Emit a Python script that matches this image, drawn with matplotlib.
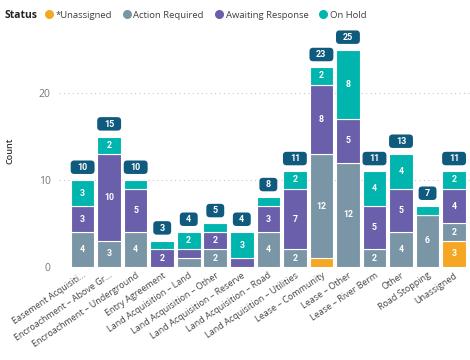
import matplotlib
matplotlib.use("Agg")
import matplotlib.pyplot as plt
import numpy as np
from matplotlib.offsetbox import DrawingArea, AnnotationBbox
from matplotlib.patches import FancyBboxPatch
from matplotlib.text import Text
from matplotlib.lines import Line2D

categories = [
    "Easement Acquisiti…",
    "Encroachment – Above Gr…",
    "Encroachment – Underground",
    "Entry Agreement",
    "Land Acquisition – Land",
    "Land Acquisition – Other",
    "Land Acquisition – Reserve",
    "Land Acquisition – Road",
    "Land Acquisition – Utilities",
    "Lease – Community",
    "Lease – Other",
    "Lease – River Berm",
    "Other",
    "Road Stopping",
    "Unassigned",
]
series_names = ["*Unassigned", "Action Required", "Awaiting Response", "On Hold"]
unassigned = [0, 0, 0, 0, 0, 0, 0, 0, 0, 1, 0, 0, 0, 0, 3]
action_required = [4, 3, 4, 0, 1, 2, 0, 4, 2, 12, 12, 2, 4, 6, 2]
awaiting_response = [3, 10, 5, 2, 1, 2, 1, 3, 7, 8, 5, 5, 5, 0, 4]
on_hold = [3, 2, 1, 1, 2, 1, 3, 1, 2, 2, 8, 4, 4, 1, 2]
yticks = [0, 10, 20]

colors = ["#F5A623", "#7A96A6", "#6A5FAA", "#00B5AD"]
label_bg = "#0F5A7D"

plt.rcParams["font.family"] = ["Open Sans", "DejaVu Sans"]

fig = plt.figure(figsize=(4.7, 3.6), dpi=100)
ax = fig.add_axes([59 / 470, (360 - 266.7) / 360, 411 / 470, (266.7 - 30) / 360])

x = np.arange(len(categories))
series = [unassigned, action_required, awaiting_response, on_hold]
bottom = np.zeros(len(categories))
for name, vals, col in zip(series_names, series, colors):
    vals = np.array(vals, dtype=float)
    ax.bar(x, vals, bottom=bottom, width=0.89, color=col, edgecolor="white",
           linewidth=0.8, label=name, zorder=3)
    for xi, b, v in zip(x, bottom, vals):
        if v >= 2:
            ax.text(xi, b + v / 2, f"{int(v)}", ha="center", va="center",
                    color="white", fontsize=6.3, fontweight="bold",
                    family="Roboto", zorder=4)
    bottom += vals

totals = bottom
for xi, t in zip(x, totals):
    s = f"{int(t)}"
    w = 8.6 + 4.3 * len(s)
    h = 9.7
    da = DrawingArea(w, h, 0, 0, clip=False)
    da.add_artist(FancyBboxPatch((0, 0), w, h,
                                 boxstyle="round,pad=0,rounding_size=2.6",
                                 fc=label_bg, ec="none"))
    da.add_artist(Text(w / 2, h / 2 - 0.2, s, ha="center", va="center",
                       color="white", fontsize=6.5, fontweight="bold",
                       family="Roboto"))
    ab = AnnotationBbox(da, (xi, t), xybox=(0, 9.2), xycoords="data",
                        boxcoords="offset points", frameon=False,
                        box_alignment=(0.5, 0.5), pad=0, zorder=5)
    ax.add_artist(ab)

ax.set_xlim(-0.89, 14.6)
ax.set_ylim(0, 27.3)
ax.set_yticks(yticks)
ax.set_yticklabels([str(v) for v in yticks], color="#777777", fontsize=7.5)
ax.tick_params(axis="y", length=0, pad=6)
ax.set_xticks(x)
ax.set_xticklabels(categories, rotation=34, ha="right", va="top",
                   rotation_mode="anchor", fontsize=6.5, color="#444444")
ax.tick_params(axis="x", length=0, pad=3)
for sp in ax.spines.values():
    sp.set_visible(False)
ax.grid(axis="y", color="#C8C8C8", linestyle=(0, (1, 3)), linewidth=0.8, zorder=0)
ax.set_axisbelow(True)

fig.text(10 / 470, 1 - 151 / 360, "Count", rotation=90, ha="center", va="center",
         fontsize=6.5, fontweight="semibold", color="#333333")

fig.text(5 / 470, 1 - 15 / 360, "Status", ha="left", va="center",
         fontsize=7.5, fontweight="bold", color="#252423")
handles = [Line2D([], [], marker="o", linestyle="none", markersize=6.5,
                  markerfacecolor=c, markeredgecolor="none") for c in colors]
fig.legend(handles, series_names, loc="center left",
           bbox_to_anchor=(41 / 470, 1 - 15 / 360), ncol=4, frameon=False,
           fontsize=6.8, handletextpad=-0.1, columnspacing=0.8,
           handlelength=1.6, borderaxespad=0, borderpad=0,
           labelcolor="#404040")

fig.savefig("out.png", dpi=100)
